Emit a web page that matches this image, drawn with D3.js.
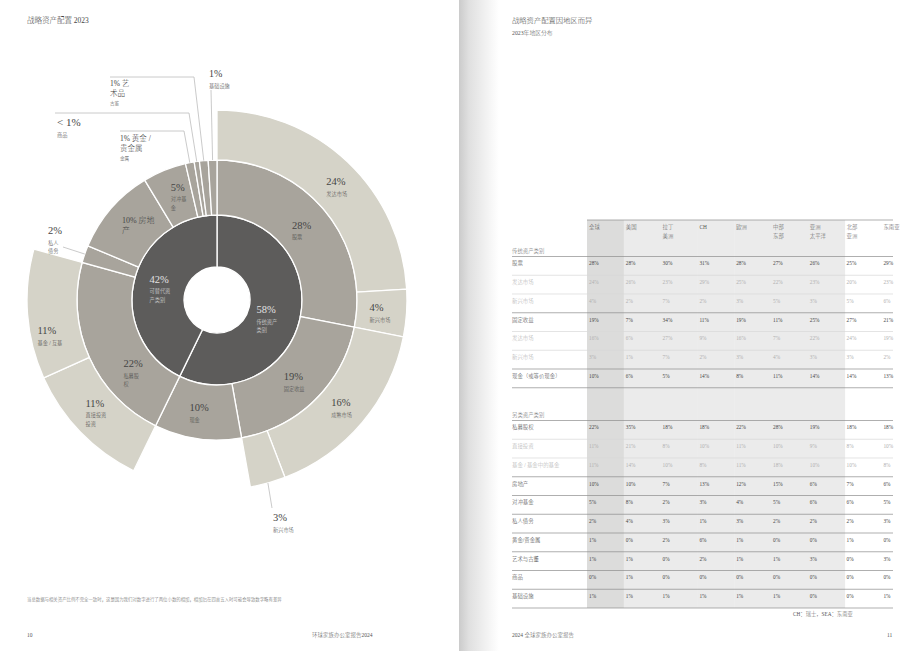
<!DOCTYPE html>
<html>
<head>
<meta charset="utf-8">
<script src="https://cdn.jsdelivr.net/npm/d3@7"></script>
<style>
  body { margin: 0; background: #fff; }
  svg text { font-family: "Liberation Serif", "DejaVu Serif", "Noto Sans CJK SC", serif; font-weight: 300; }
</style>
</head>
<body>
<svg id="page" width="920" height="651"></svg>
<script>
// ---- sunburst data ----
var groups = ['传统资产类别', '可替代资产类别'];
var groupShare = ['58%', '42%'];
var groupText = [['传统资产', '类别'], ['可替代资', '产类别']];

var classes = ['股票', '固定收益', '现金', '私募股权', '私人债务', '房地产', '对冲基金', '黄金 / 贵金属', '商品', '艺术品', '基础设施'];
var classGroup = [0, 0, 0, 1, 1, 1, 1, 1, 1, 1, 1];
var classValues = [28, 19, 10, 22, 2, 10, 5, 1, 0.6, 1, 1];
var classShare = ['28%', '19%', '10%', '22%', '2%', '10%', '5%', '1%', '< 1%', '1%', '1%'];
var classText = [['股票'], ['固定收益'], ['现金'], ['私募股', '权'], ['私人', '债务'], ['房地', '产'],
  ['对冲基', '金'], ['黄金 /', '贵金属', '金属'], ['商品'], ['艺', '术品', '古董'], ['基础设施']];

var subs = ['发达市场', '新兴市场', '成熟市场', '新兴市场', '直接投资', '基金 / 互基'];
var subClass = [0, 0, 1, 1, 3, 3];
var subValues = [24, 4, 16, 3, 11, 11];
var subShare = ['24%', '4%', '16%', '3%', '11%', '11%'];
var subText = [['发达市场'], ['新兴市场'], ['成熟市场'], ['新兴市场'], ['直接投资', '投资'], ['基金 / 互基']];

// ---- table data ----
var regions = ['全球', '美国', '拉丁\n美洲', 'CH', '欧洲', '中部\n东部', '亚洲\n太平洋', '北部\n亚洲', '东南亚'];
var tradRows = ['股票', '发达市场', '新兴市场', '固定收益', '发达市场', '新兴市场', '现金（或等价现金）'];
var altRows = ['私募股权', '直接投资', '基金 / 基金中的基金', '房地产', '对冲基金', '私人债务', '黄金/贵金属', '艺术与古董', '商品', '基础设施'];
var equities = [28, 28, 30, 31, 28, 27, 26, 25, 29];
var equitiesDev = [24, 26, 23, 29, 25, 22, 23, 20, 23];
var equitiesEm = [4, 2, 7, 2, 3, 5, 3, 5, 6];
var fixedIncome = [19, 7, 34, 11, 19, 11, 25, 27, 21];
var fixedDev = [16, 6, 27, 9, 16, 7, 22, 24, 19];
var fixedEm = [3, 1, 7, 2, 3, 4, 3, 3, 2];
var cash = [10, 6, 5, 14, 8, 11, 14, 14, 13];
var privateEquity = [22, 35, 18, 18, 22, 28, 19, 18, 18];
var peDirect = [11, 21, 8, 10, 11, 10, 9, 8, 10];
var peFunds = [11, 14, 10, 8, 11, 18, 10, 10, 8];
var realEstate = [10, 10, 7, 13, 12, 15, 6, 7, 6];
var hedgeFunds = [5, 8, 2, 3, 4, 5, 6, 6, 5];
var privateDebt = [2, 4, 3, 1, 3, 2, 2, 2, 3];
var gold = [1, 0, 2, 6, 1, 0, 0, 1, 0];
var art = [1, 1, 0, 2, 1, 1, 3, 0, 3];
var commodities = [0, 1, 0, 0, 0, 0, 0, 0, 0];
var infrastructure = [1, 1, 1, 1, 1, 1, 0, 0, 1];

var tradValues = [equities, equitiesDev, equitiesEm, fixedIncome, fixedDev, fixedEm, cash];
var tradIsSub = [false, true, true, false, true, true, false];
var altValues = [privateEquity, peDirect, peFunds, realEstate, hedgeFunds, privateDebt, gold, art, commodities, infrastructure];
var altIsSub = [false, true, true, false, false, false, false, false, false, false];

var svg = d3.select('#page');
var ink = '#454545';

// spine shadow between the two pages
var defs = svg.append('defs');
var grad = defs.append('linearGradient').attr('id', 'spine');
grad.append('stop').attr('offset', '0%').attr('stop-color', '#cbcbcb');
grad.append('stop').attr('offset', '25%').attr('stop-color', '#e0e0e0');
grad.append('stop').attr('offset', '100%').attr('stop-color', '#ffffff');
svg.append('rect').attr('x', 459).attr('y', 0).attr('width', 40).attr('height', 651).attr('fill', 'url(#spine)');

// ---- left page ----
svg.append('text').attr('x', 27).attr('y', 23).attr('font-size', 7.5).attr('fill', ink).text('战略资产配置 2023');
svg.append('text').attr('x', 27).attr('y', 601).attr('font-size', 4.4).attr('fill', '#666')
  .text('当总数据与相关资产比例不完全一致时，这是因为我们对数字进行了两位小数的相加，相加后在四舍五入时可能会导致数字略有差异');
svg.append('text').attr('x', 27).attr('y', 637).attr('font-size', 5.5).attr('fill', '#555').text('10');
svg.append('text').attr('x', 312).attr('y', 637).attr('font-size', 5.5).attr('fill', '#555').text('环球家族办公室报告2024');

var cx = 217, cy = 300;
var radius = d3.scaleLinear().domain([1, 2, 3, 4]).range([33, 85, 140, 190]);
var fills = [null, '#5d5c5b', '#a8a49c', '#d5d3c8'];

var tree = {
  name: 'root',
  children: groups.map(function(g, gi) {
    return {
      name: g, share: groupShare[gi], text: groupText[gi],
      children: classes.map(function(c, ci) { return ci; })
        .filter(function(ci) { return classGroup[ci] === gi; })
        .map(function(ci) {
          var kids = subs.map(function(s, si) { return si; })
            .filter(function(si) { return subClass[si] === ci; })
            .map(function(si) {
              return { name: classes[ci] + '/' + subs[si], share: subShare[si], text: subText[si], value: subValues[si] };
            });
          var node = { name: classes[ci], share: classShare[ci], text: classText[ci] };
          if (kids.length) node.children = kids; else node.value = classValues[ci];
          return node;
        })
    };
  })
};

var root = d3.hierarchy(tree).sum(function(d) { return d.children ? 0 : d.value; });
d3.partition().size([2 * Math.PI, 4])(root);

var arc = d3.arc()
  .startAngle(function(d) { return d.x0; })
  .endAngle(function(d) { return d.x1; })
  .innerRadius(function(d) { return radius(d.y0); })
  .outerRadius(function(d) { return radius(d.y1); });

var chart = svg.append('g').attr('transform', 'translate(' + cx + ',' + cy + ')');
var nodes = root.descendants().filter(function(d) { return d.depth > 0; });

chart.selectAll('path.slice')
  .data(nodes)
  .enter().append('path')
  .attr('class', 'slice')
  .attr('d', arc)
  .attr('fill', function(d) { return fills[d.depth]; })
  .attr('stroke', '#fff')
  .attr('stroke-width', 1.3);

function polar(a, r) { return [cx + r * Math.sin(a), cy - r * Math.cos(a)]; }

// label layout tweaks (screen space)
var nudge = {
  '传统资产类别': [-6, 0], '可替代资产类别': [2, -4],
  '私募股权': [21, 21], '房地产': [2, -3], '对冲基金': [8, -5],
  '股票/发达市场': [8, 5], '私募股权/直接投资': [-1, -8], '私募股权/基金 / 互基': [-3, 22]
};
var headLines = { '房地产': 2, '艺术品': 2, '黄金 / 贵金属': 2 };
var callouts = {
  '基础设施': { x: 209, y: 77, size: 10, path: [[211, 90]] },
  '艺术品': { x: 110, y: 86, size: 7.5, path: [[110, 77], [194, 77]] },
  '商品': { x: 57, y: 126, size: 11, path: [[55, 113], [189, 113]] },
  '黄金 / 贵金属': { x: 120, y: 141, size: 7.5, path: [[120, 131], [184, 131]] },
  '私人债务': { x: 48, y: 234, size: 10.5, path: [[63, 247]] },
  '固定收益/新兴市场': { x: 273, y: 521, size: 10.5, path: [[272, 508]] }
};

function drawLabel(g, x, y, d, pctSize, color) {
  var t = g.append('text').attr('fill', color);
  var big = headLines[d.data.name] || 0;
  var lines = d.data.text;
  if (big) {
    t.append('tspan').attr('x', x).attr('y', y).attr('font-size', pctSize).text(d.data.share + ' ' + lines[0]);
    for (var i = 1; i < lines.length; i++) {
      t.append('tspan').attr('x', x).attr('y', y + (i < big ? 10 * i : 10 * (big - 1) + 8.5 * (i - big + 1)))
        .attr('font-size', i < big ? pctSize : 4.6).text(lines[i]);
    }
  } else {
    t.append('tspan').attr('x', x).attr('y', y).attr('font-size', pctSize).text(d.data.share);
    lines.forEach(function(l, i) {
      t.append('tspan').attr('x', x).attr('y', y + 10.5 + 8.5 * i).attr('font-size', 5.2).text(l);
    });
  }
}

var labels = svg.append('g');
nodes.forEach(function(d) {
  var a = (d.x0 + d.x1) / 2;
  var color = d.depth === 1 ? '#e3e3e3' : ink;
  var c = callouts[d.data.name];
  if (c) {
    var edge = polar(a, radius(d.y1));
    labels.append('path')
      .attr('d', d3.line()(c.path.concat([edge])))
      .attr('fill', 'none').attr('stroke', '#bdbdbd').attr('stroke-width', 0.8);
    drawLabel(labels, c.x, c.y, d, c.size, color);
    return;
  }
  var p = polar(a, (radius(d.y0) + radius(d.y1)) / 2);
  var n = nudge[d.data.name] || [0, 0];
  drawLabel(labels, p[0] - 12 + n[0], p[1] + n[1], d, headLines[d.data.name] ? 8 : 10.5, color);
});

// ---- right page ----
svg.append('text').attr('x', 512).attr('y', 23).attr('font-size', 7.3).attr('fill', ink).text('战略资产配置因地区而异');
svg.append('text').attr('x', 512).attr('y', 35).attr('font-size', 5.8).attr('fill', '#555').text('2023年地区分布');
svg.append('text').attr('x', 512).attr('y', 637).attr('font-size', 5.5).attr('fill', '#555').text('2024 全球家族办公室报告');
svg.append('text').attr('x', 887).attr('y', 637).attr('font-size', 5.5).attr('fill', '#555').text('11');

var tableLeft = 512, tableRight = 893, tableTop = 220, tableBottom = 608;
var x = d3.scaleBand().domain(regions).range([587, 587 + 9 * 36.8]);
var yTrad = d3.scaleBand().domain(d3.range(tradRows.length)).range([256.5, 256.5 + tradRows.length * 18.75]);
var yAlt = d3.scaleBand().domain(d3.range(altRows.length)).range([420.5, tableBottom]);

var table = svg.append('g');
table.selectAll('rect.col')
  .data(regions.slice(0, 7))
  .enter().append('rect')
  .attr('class', 'col')
  .attr('x', function(d) { return x(d); })
  .attr('y', tableTop)
  .attr('width', x.step() + 0.5)
  .attr('height', tableBottom - tableTop)
  .attr('fill', function(d, i) { return i === 0 ? '#dcdcdb' : '#ebebeb'; });

table.append('line').attr('x1', x(regions[0])).attr('x2', tableRight)
  .attr('y1', tableTop).attr('y2', tableTop).attr('stroke', '#8c8c8c').attr('stroke-width', 0.7);

regions.forEach(function(r) {
  var t = table.append('text').attr('font-size', 5.4).attr('fill', '#555');
  r.split('\n').forEach(function(l, i) {
    t.append('tspan').attr('x', x(r) + 2).attr('y', 229 + 9 * i).text(l);
  });
});

function section(title, rows, values, isSub, y) {
  table.append('text').attr('x', tableLeft).attr('y', y.range()[0] - 3.5)
    .attr('font-size', 5.4).attr('fill', '#666').text(title);
  rows.forEach(function(name, i) {
    var top = y(i);
    table.append('line').attr('x1', tableLeft).attr('x2', tableRight).attr('y1', top).attr('y2', top)
      .attr('stroke', isSub[i] ? '#d9d9d9' : '#8c8c8c').attr('stroke-width', 0.7);
    var color = isSub[i] ? '#b0b0b0' : ink;
    table.append('text').attr('x', tableLeft).attr('y', top + 8.8)
      .attr('font-size', 5.4).attr('fill', color).text(name);
    table.selectAll(null)
      .data(values[i])
      .enter().append('text')
      .attr('x', function(v, j) { return x(regions[j]) + 2; })
      .attr('y', top + 8.8)
      .attr('font-size', 5.3)
      .attr('fill', color)
      .text(function(v) { return v + '%'; });
  });
  var bottom = y.range()[1];
  table.append('line').attr('x1', tableLeft).attr('x2', tableRight).attr('y1', bottom).attr('y2', bottom)
    .attr('stroke', '#8c8c8c').attr('stroke-width', 0.7);
}

section('传统资产类别', tradRows, tradValues, tradIsSub, yTrad);
section('另类资产类别', altRows, altValues, altIsSub, yAlt);

table.append('text').attr('x', 793).attr('y', 616).attr('font-size', 5.3).attr('fill', '#555')
  .text('CH：瑞士，SEA：东南亚');
</script>
</body>
</html>
